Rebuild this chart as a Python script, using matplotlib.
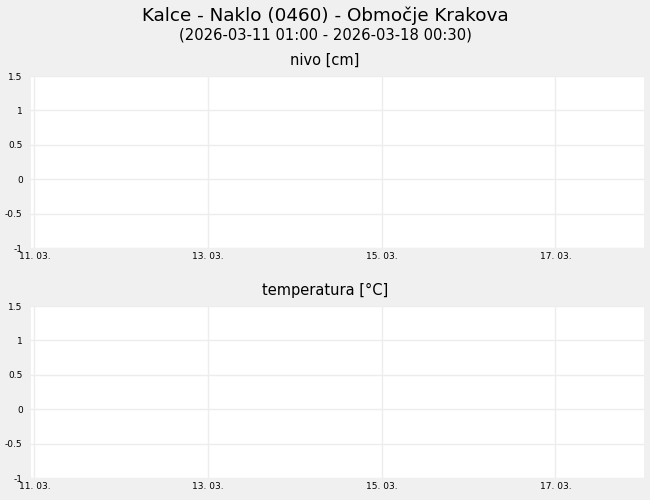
import numpy as np
import pandas as pd
import matplotlib
matplotlib.use('Agg')
import matplotlib.pyplot as plt
import matplotlib.dates as mdates

TITLE = 'Kalce - Naklo (0460) - Območje Krakova'
SUBTITLE = '(2026-03-11 01:00 - 2026-03-18 00:30)'
PANELS = ['nivo [cm]', 'temperatura [°C]']

# no measurements in the period
times = pd.to_datetime(pd.Series([], dtype='datetime64[ns]'))
nivo = []
temperatura = []

y_ticks = [-1, -0.5, 0, 0.5, 1, 1.5]
y_labels = ['-1', '-0.5', '0', '0.5', '1', '1.5']
x_ticks = pd.to_datetime(['2026-03-11', '2026-03-13', '2026-03-15', '2026-03-17'])
x_start = pd.Timestamp('2026-03-10 23:05')
x_end = pd.Timestamp('2026-03-18 00:30')

BG = '#f0f0f0'
GRID = '#ededed'

fig = plt.figure(figsize=(6.5, 5), dpi=100, facecolor=BG)
fig.text(0.5, 0.969, TITLE, ha='center', va='center', fontsize=13.2)
fig.text(0.5, 0.930, SUBTITLE, ha='center', va='center', fontsize=10.6)

positions = [[0.0477, 0.504, 0.943, 0.344], [0.0477, 0.044, 0.943, 0.344]]
title_y = [0.880, 0.420]
for pos, name, vals, ty in zip(positions, PANELS, [nivo, temperatura], title_y):
    ax = fig.add_axes(pos)
    ax.set_facecolor('white')
    ax.plot(times, vals, color='#1f77b4')
    ax.set_xlim(x_start, x_end)
    ax.set_ylim(-1, 1.5)
    ax.set_yticks(y_ticks)
    ax.set_yticklabels(y_labels)
    ax.set_xticks(x_ticks)
    ax.xaxis.set_major_formatter(mdates.DateFormatter('%d. %m.'))
    ax.grid(True, color=GRID, linewidth=1)
    ax.set_axisbelow(True)
    for s in ax.spines.values():
        s.set_visible(False)
    ax.tick_params(length=0, labelsize=6.5, pad=3)
    ax.tick_params(axis='y', pad=6)
    fig.text(0.5, ty, name, ha='center', va='center', fontsize=10.5)

fig.savefig('out.png', dpi=100, facecolor=BG)
